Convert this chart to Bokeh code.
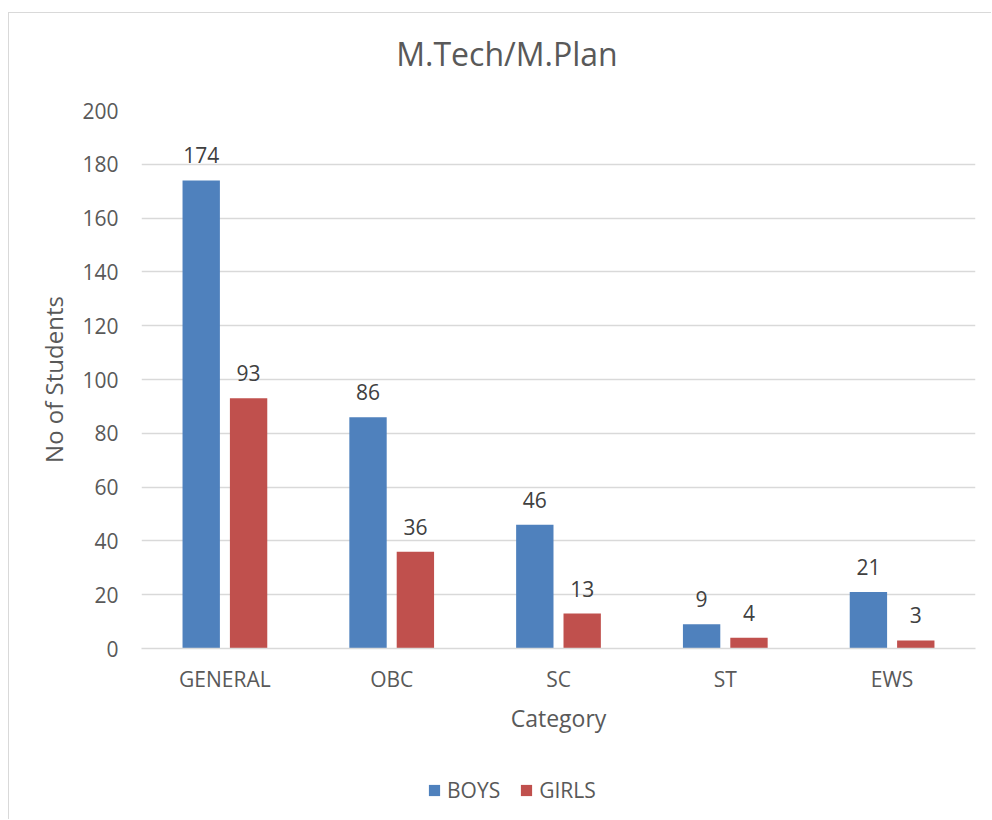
from bokeh.plotting import figure
from bokeh.layouts import column
from bokeh.models import (ColumnDataSource, FactorRange, Range1d, Legend, LegendItem,
                          LabelSet, Label, FixedTicker)
from bokeh.core.properties import value
from bokeh.transform import dodge
from bokeh.embed import file_html
from bokeh.resources import INLINE

# ---- data ----
categories = ["GENERAL", "OBC", "SC", "ST", "EWS"]
boys = [174, 86, 46, 9, 21]
girls = [93, 36, 13, 4, 3]
series_names = ["BOYS", "GIRLS"]
title_text = "M.Tech/M.Plan"
x_title = "Category"
y_title = "No of Students"
y_ticks = [0, 20, 40, 60, 80, 100, 120, 140, 160, 180, 200]

# ---- style ----
FONT = "Open Sans"
BLUE = "#4F81BD"
RED = "#C0504D"
GRID = "#D9D9D9"
TXT = "#595959"
LBL = "#404040"

src = ColumnDataSource(dict(
    cat=categories,
    boys=boys,
    girls=girls,
    boys_lbl=[str(v) for v in boys],
    girls_lbl=[str(v) for v in girls],
))

W = 982
H0, H1, H2 = 77, 663, 66


def strip(height):
    f = figure(x_range=Range1d(0, 1), y_range=Range1d(1000, 1001), width=W, height=height,
               output_backend="svg", toolbar_location=None,
               min_border_left=0, min_border_right=0, min_border_top=0, min_border_bottom=0)
    f.axis.visible = False
    f.grid.visible = False
    f.outline_line_color = None
    f.title.visible = False
    return f


# ---- title strip ----
tf = strip(H0)
tf.add_layout(Label(x=365.5, y=37, x_units="screen", y_units="screen", text=title_text,
                    text_align="center", text_baseline="alphabetic", text_font=FONT,
                    text_font_size="32px", text_color=TXT))

# ---- main chart ----
p = figure(x_range=FactorRange(*categories), y_range=Range1d(y_ticks[0], y_ticks[-1]),
           width=W, height=H1, output_backend="svg", toolbar_location=None,
           min_border_left=132, min_border_right=16, min_border_top=20,
           min_border_bottom=105)
p.title.visible = False
p.outline_line_color = None
p.background_fill_color = "white"
p.border_fill_color = "white"

off = 0.142
bw = 0.224
rb = p.vbar(x=dodge("cat", -off, range=p.x_range), top="boys", width=bw, source=src,
            fill_color=BLUE, line_color=None)
rg = p.vbar(x=dodge("cat", off, range=p.x_range), top="girls", width=bw, source=src,
            fill_color=RED, line_color=None)

for col, lab, o in (("boys", "boys_lbl", -off), ("girls", "girls_lbl", off)):
    ls = LabelSet(x=dodge("cat", o, range=p.x_range), y=col, text=lab, source=src,
                  y_offset=17, text_align="center", text_baseline="alphabetic",
                  text_font=value(FONT), text_font_size="21px", text_color=LBL)
    p.add_layout(ls)

# axes
p.yaxis.ticker = FixedTicker(ticks=y_ticks)
p.yaxis.axis_line_color = None
p.yaxis.major_tick_line_color = None
p.yaxis.minor_tick_line_color = None
p.yaxis.major_tick_out = 0
p.yaxis.major_tick_in = 0
p.yaxis.major_label_standoff = 23
p.yaxis.major_label_text_font = FONT
p.yaxis.major_label_text_font_size = "21px"
p.yaxis.major_label_text_color = TXT
p.yaxis.axis_label = y_title
p.yaxis.axis_label_text_font = FONT
p.yaxis.axis_label_text_font_size = "24px"
p.yaxis.axis_label_text_font_style = "normal"
p.yaxis.axis_label_text_color = TXT
p.yaxis.axis_label_standoff = 9

p.xaxis.axis_line_color = GRID
p.xaxis.axis_line_width = 1.3
p.xaxis.major_tick_line_color = None
p.xaxis.minor_tick_line_color = None
p.xaxis.major_tick_out = 0
p.xaxis.major_tick_in = 0
p.xaxis.major_label_standoff = 16
p.xaxis.major_label_text_font = FONT
p.xaxis.major_label_text_font_size = "21px"
p.xaxis.major_label_text_color = TXT
p.xaxis.axis_label = x_title
p.xaxis.axis_label_text_font = FONT
p.xaxis.axis_label_text_font_size = "23px"
p.xaxis.axis_label_text_font_style = "normal"
p.xaxis.axis_label_text_color = TXT
p.xaxis.axis_label_standoff = 6

p.xgrid.grid_line_color = None
p.ygrid.grid_line_color = GRID
p.ygrid.grid_line_width = 1.3

# ---- legend strip (legend inside its frame) ----
lg = strip(H2)
lb = lg.vbar(x=[0.5] * len(boys), top=boys, width=0.1, fill_color=BLUE, line_color=None)
lr = lg.vbar(x=[0.5] * len(girls), top=girls, width=0.1, fill_color=RED, line_color=None)
legend = Legend(items=[LegendItem(label=series_names[0], renderers=[lb]),
                       LegendItem(label=series_names[1], renderers=[lr])],
                location=(286, 15), orientation="horizontal",
                glyph_width=14, glyph_height=14, label_standoff=6, spacing=19,
                padding=0, margin=0, border_line_color=None, background_fill_alpha=0,
                label_text_font=FONT, label_text_font_size="21px", label_text_color=TXT)
lg.add_layout(legend)

layout = column(tf, p, lg, spacing=0)
layout.styles = {"border-top": "1px solid #D9D9D9", "border-left": "1px solid #D9D9D9",
                 "margin-top": "12px", "margin-left": "8px"}

open("out.html", "w").write(file_html(layout, INLINE))
